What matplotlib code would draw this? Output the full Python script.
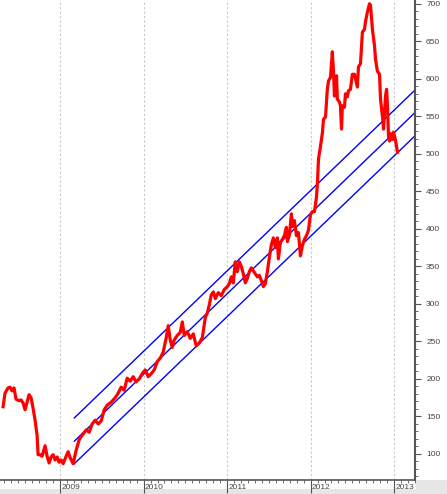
import numpy as np
import matplotlib.pyplot as plt
from matplotlib.patches import Rectangle

plt.rcParams['font.family'] = ['Liberation Sans', 'DejaVu Sans']

# weekly closes, x in decimal years
dates = [2008.317, 2008.34, 2008.376, 2008.40, 2008.424, 2008.448, 2008.472, 2008.508, 2008.532, 2008.556,
         2008.58, 2008.604, 2008.628, 2008.652, 2008.676, 2008.70, 2008.724, 2008.736, 2008.76, 2008.784,
         2008.82, 2008.844, 2008.868, 2008.892, 2008.916, 2008.94, 2008.964, 2008.988, 2009.012, 2009.036,
         2009.072, 2009.096, 2009.12, 2009.156, 2009.192, 2009.228, 2009.264, 2009.312, 2009.348, 2009.384,
         2009.42, 2009.456, 2009.492, 2009.528, 2009.564, 2009.612, 2009.66, 2009.695, 2009.731, 2009.767,
         2009.803, 2009.839, 2009.875, 2009.91, 2009.947, 2009.983, 2010.019, 2010.055, 2010.091, 2010.127,
         2010.163, 2010.20, 2010.235, 2010.271, 2010.295, 2010.319, 2010.343, 2010.367, 2010.403, 2010.439,
         2010.463, 2010.487, 2010.523, 2010.559, 2010.595, 2010.63, 2010.667, 2010.703, 2010.739, 2010.763,
         2010.787, 2010.81, 2010.835, 2010.859, 2010.894, 2010.93, 2010.966, 2011.002, 2011.026, 2011.05,
         2011.074, 2011.098, 2011.122, 2011.146, 2011.17, 2011.194, 2011.218, 2011.242, 2011.266, 2011.29,
         2011.314, 2011.338, 2011.362, 2011.386, 2011.41, 2011.434, 2011.458, 2011.482, 2011.506, 2011.53,
         2011.554, 2011.578, 2011.602, 2011.614, 2011.638, 2011.662, 2011.686, 2011.71, 2011.722, 2011.746,
         2011.77, 2011.782, 2011.806, 2011.83, 2011.854, 2011.878, 2011.902, 2011.926, 2011.95, 2011.974,
         2011.998, 2012.022, 2012.046, 2012.07, 2012.082, 2012.094, 2012.118, 2012.142, 2012.154, 2012.178,
         2012.20, 2012.214, 2012.238, 2012.26, 2012.274, 2012.285, 2012.31, 2012.32, 2012.345, 2012.357,
         2012.37, 2012.38, 2012.405, 2012.417, 2012.44, 2012.453, 2012.477, 2012.50, 2012.525, 2012.537,
         2012.56, 2012.573, 2012.597, 2012.62, 2012.645, 2012.657, 2012.68, 2012.705, 2012.717, 2012.74,
         2012.765, 2012.777, 2012.80, 2012.825, 2012.837, 2012.86, 2012.873, 2012.897, 2012.91, 2012.92,
         2012.933, 2012.945, 2012.957, 2012.98, 2012.993, 2013.017, 2013.04]
prices = [163, 181, 188, 189, 184, 188, 173, 171, 172, 168,
          159, 169, 179, 175, 161, 145, 125, 99, 99, 97,
          111, 97, 88, 96, 99, 92, 96, 89, 92, 87,
          97, 103, 95, 87, 105, 119, 125, 132, 129, 140,
          145, 140, 144, 159, 165, 169, 175, 181, 189, 185,
          201, 197, 203, 196, 200, 207, 212, 203, 207, 212,
          223, 228, 236, 255, 271, 252, 242, 252, 258, 262,
          276, 258, 263, 254, 260, 244, 248, 255, 282, 288,
          299, 312, 316, 307, 315, 311, 319, 323, 327, 336,
          328, 356, 343, 356, 350, 340, 328, 334, 343, 348,
          344, 340, 336, 338, 331, 323, 327, 343, 362, 379,
          388, 375, 388, 360, 382, 386, 391, 402, 383, 392,
          420, 403, 411, 391, 395, 364, 378, 386, 391, 398,
          419, 423, 423, 442, 462, 493, 510, 529, 546, 549,
          586, 597, 602, 636, 610, 577, 604, 573, 569, 564,
          533, 564, 562, 580, 576, 584, 586, 606, 606, 600,
          589, 616, 620, 662, 666, 676, 689, 700, 698, 666,
          644, 626, 610, 606, 573, 550, 533, 577, 586, 564,
          523, 517, 527, 519, 529, 518, 502]

# trend channel
channel_x = [2009.17, 2013.25]
channel_lower = [87, 524]
channel_middle = [117, 555]
channel_upper = [148, 585]

years = [2009, 2010, 2011, 2012, 2013]

fig = plt.figure(figsize=(4.47, 4.94), dpi=100)
ax = fig.add_axes([0, 14 / 494, 415 / 447, 480 / 494])

for yr in years:
    ax.axvline(yr, color='#c8c8c8', linestyle=(0, (2, 2)), linewidth=0.8, zorder=0)

for ch in (channel_lower, channel_middle, channel_upper):
    ax.plot(channel_x, ch, color='#0000ff', linewidth=1.0, zorder=2)
ax.plot(dates, prices, color='#ff0000', linewidth=2.3, zorder=3, solid_joinstyle='round')

ax.set_xlim(2008.28, 2013.25)
ax.set_ylim(65.3, 705)

ax.spines['left'].set_visible(False)
ax.spines['top'].set_visible(False)
ax.spines['right'].set_color('#555555')
ax.spines['right'].set_linewidth(1.5)
ax.spines['bottom'].set_color('#555555')
ax.spines['bottom'].set_linewidth(1.2)

ax.yaxis.tick_right()
ax.set_yticks(np.arange(100, 701, 50))
ax.set_yticks(np.arange(70, 705, 10), minor=True)
ax.tick_params(axis='y', which='major', length=4, width=0.8, color='#555555',
               labelsize=6, labelcolor='#444444', pad=4)
ax.tick_params(axis='y', which='minor', length=2, width=0.6, color='#555555')

ax.set_xticks(years)
ax.set_xticks([2008 + k / 12 for k in range(4, 64)], minor=True)
ax.set_xticklabels([])
ax.tick_params(axis='x', which='major', direction='out', length=9, width=0.8, color='#555555')
ax.tick_params(axis='x', which='minor', direction='out', length=2.5, width=0.6, color='#555555')
for yr in years:
    ax.text(yr + 0.012, -0.016, str(yr), transform=ax.get_xaxis_transform(),
            fontsize=6, color='#444444', ha='left', va='center')

# light gray strips at the bottom
fig.patches.append(Rectangle((0, 0), 1, 5 / 494, transform=fig.transFigure,
                             facecolor='#e6e6e6', edgecolor='none', zorder=-1))
fig.patches.append(Rectangle((416 / 447, 0), 31 / 447, 14 / 494, transform=fig.transFigure,
                             facecolor='#e6e6e6', edgecolor='none', zorder=-1))

fig.savefig('out.png', dpi=100)
